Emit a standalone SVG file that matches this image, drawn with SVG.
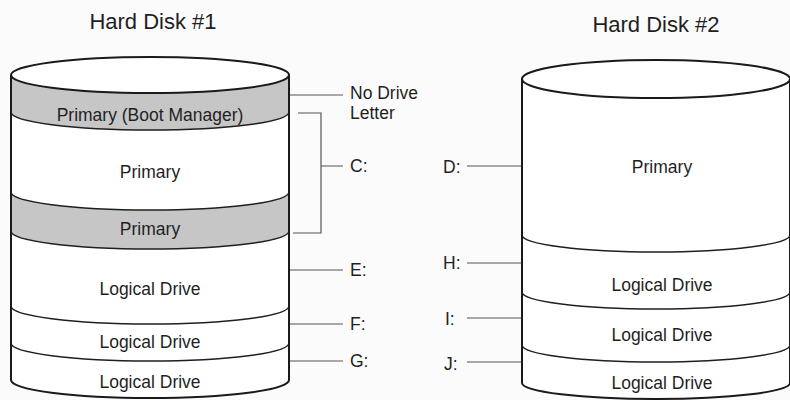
<svg xmlns="http://www.w3.org/2000/svg" width="790" height="400" viewBox="0 0 790 400">
  <style>
    text { font-family: "Liberation Sans", Arial, Helvetica, sans-serif; fill: #1f1f1f; }
    .title { font-size: 22px; text-anchor: middle; }
    .part { font-size: 17.5px; text-anchor: middle; }
    .letter { font-size: 17.5px; }
    .body { fill: #ffffff; stroke: none; }
    .band { fill: #c6c6c6; stroke: none; }
    .outline { fill: none; stroke: #1a1a1a; stroke-width: 2; stroke-linejoin: round; }
    .divider { fill: none; stroke: #1f1f1f; stroke-width: 1.5; }
    .conn { fill: none; stroke: #555555; stroke-width: 1.2; }
  </style>

  <rect x="0" y="0" width="790" height="400" fill="#fbfbfb"/>

  <!-- Disk 1 -->
  <g id="disk1">
    <text class="title" x="153" y="29">Hard Disk #1</text>
    <path class="body" d="M11,75 A139,18 0 0,1 289,75 L289,380 A139,18 0 0,1 11,380 Z"/>

    <g id="disk1-boot-manager">
      <path class="band" d="M11,75 A139,18 0 0,0 289,75 L289,112 A139,18 0 0,1 11,112 Z"/>
      <text class="part" x="150" y="121">Primary (Boot Manager)</text>
    </g>
    <g id="disk1-primary-c">
      <text class="part" x="150" y="178">Primary</text>
    </g>
    <g id="disk1-primary-hidden">
      <path class="band" d="M11,192 A139,18 0 0,0 289,192 L289,231 A139,18 0 0,1 11,231 Z"/>
      <text class="part" x="150" y="235">Primary</text>
    </g>
    <g id="disk1-logical-e">
      <text class="part" x="150" y="295">Logical Drive</text>
    </g>
    <g id="disk1-logical-f">
      <text class="part" x="150" y="348">Logical Drive</text>
    </g>
    <g id="disk1-logical-g">
      <text class="part" x="150" y="388">Logical Drive</text>
    </g>

    <!-- partition boundaries -->
    <path class="divider" d="M11,112 A139,18 0 0,0 289,112"/>
    <path class="divider" d="M11,192 A139,18 0 0,0 289,192"/>
    <path class="divider" d="M11,231 A139,18 0 0,0 289,231"/>
    <path class="divider" d="M11,306 A139,18 0 0,0 289,306"/>
    <path class="divider" d="M11,343 A139,18 0 0,0 289,343"/>

    <ellipse class="outline" cx="150" cy="75" rx="139" ry="18"/>
    <path class="outline" d="M11,75 L11,380 A139,18 0 0,0 289,380 L289,75"/>
  </g>

  <!-- Disk 2 -->
  <g id="disk2">
    <text class="title" x="656" y="32">Hard Disk #2</text>
    <path class="body" d="M522,79 A134,19 0 0,1 790,79 L790,383 A134,16 0 0,1 522,383 Z"/>

    <g id="disk2-primary-d">
      <text class="part" x="662" y="173">Primary</text>
    </g>
    <g id="disk2-logical-h">
      <text class="part" x="662" y="291">Logical Drive</text>
    </g>
    <g id="disk2-logical-i">
      <text class="part" x="662" y="341">Logical Drive</text>
    </g>
    <g id="disk2-logical-j">
      <text class="part" x="662" y="389">Logical Drive</text>
    </g>

    <path class="divider" d="M522,235 A134,17 0 0,0 790,235"/>
    <path class="divider" d="M522,292 A134,17 0 0,0 790,292"/>
    <path class="divider" d="M522,345 A134,17 0 0,0 790,345"/>

    <ellipse class="outline" cx="656" cy="79" rx="134" ry="19"/>
    <path class="outline" d="M522,79 L522,383 A134,16 0 0,0 790,383 L790,79"/>
  </g>

  <!-- drive letter labels -->
  <g id="label-none">
    <text class="letter" x="350" y="99">No Drive</text>
    <text class="letter" x="350" y="119">Letter</text>
  </g>
  <g id="label-c"><text class="letter" x="350" y="172">C:</text></g>
  <g id="label-e"><text class="letter" x="350" y="276">E:</text></g>
  <g id="label-f"><text class="letter" x="350" y="330">F:</text></g>
  <g id="label-g"><text class="letter" x="350" y="367">G:</text></g>
  <g id="label-d"><text class="letter" x="443" y="173">D:</text></g>
  <g id="label-h"><text class="letter" x="443" y="269">H:</text></g>
  <g id="label-i"><text class="letter" x="445" y="325">I:</text></g>
  <g id="label-j"><text class="letter" x="444" y="370">J:</text></g>

  <!-- connectors -->
  <g id="connectors">
    <path class="conn" d="M290,95 H343"/>
    <path class="conn" d="M298,113 H321 V233 H293 M321,166 H343"/>
    <path class="conn" d="M290,270 H343"/>
    <path class="conn" d="M290,324 H343"/>
    <path class="conn" d="M290,361 H343"/>
    <path class="conn" d="M467,166 H521"/>
    <path class="conn" d="M467,263 H521"/>
    <path class="conn" d="M467,318 H521"/>
    <path class="conn" d="M467,362 H521"/>
  </g>
</svg>
